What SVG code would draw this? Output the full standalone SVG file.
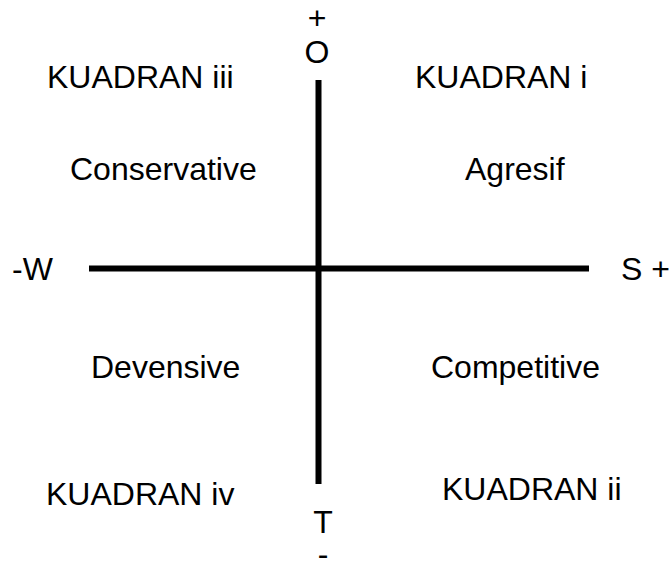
<svg xmlns="http://www.w3.org/2000/svg" width="671" height="565" viewBox="0 0 671 565">
<style>
text{font-family:"Liberation Sans",Arial,sans-serif;font-size:32px;fill:#000}
.ax{stroke:#000;stroke-width:6;fill:none}
</style>
<rect width="671" height="565" fill="#fff"/>
<g id="connectors">
<line class="ax" x1="318.5" y1="80" x2="318.5" y2="484"/>
<line class="ax" x1="89" y1="268.5" x2="589" y2="268.5"/>
</g>
<g id="axis-o"><text x="317" y="29" text-anchor="middle">+</text><text x="317" y="63" text-anchor="middle">O</text></g>
<g id="axis-t"><text x="323" y="533" text-anchor="middle">T</text><text x="323" y="565" text-anchor="middle">-</text></g>
<g id="axis-w"><text x="12" y="280">-W</text></g>
<g id="axis-s"><text x="621" y="280">S +</text></g>
<g id="k3"><text x="47" y="88">KUADRAN iii</text></g>
<g id="k1"><text x="415" y="88">KUADRAN i</text></g>
<g id="conservative"><text x="70" y="180">Conservative</text></g>
<g id="agresif"><text x="465" y="180">Agresif</text></g>
<g id="devensive"><text x="91" y="378">Devensive</text></g>
<g id="competitive"><text x="431" y="378">Competitive</text></g>
<g id="k4"><text x="46" y="505">KUADRAN iv</text></g>
<g id="k2"><text x="442" y="500">KUADRAN ii</text></g>
</svg>
